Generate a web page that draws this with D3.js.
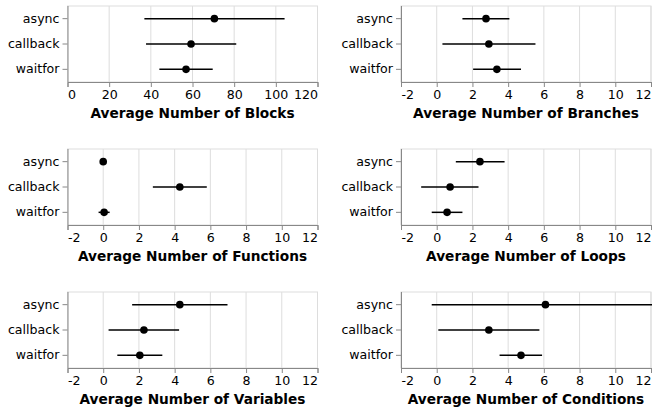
<!DOCTYPE html>
<html>
<head>
<meta charset="utf-8">
<script src="https://cdn.jsdelivr.net/npm/d3@7"></script>
<style>
  body { margin: 0; background: #fff; }
  svg text { font-family: 'DejaVu Sans', sans-serif; }
</style>
</head>
<body>
<div id="chart"></div>
<script>
const groups = ['async', 'callback', 'waitfor']

// one row per panel: [mean, lo, hi] per group
const blocks = [[70.5, 36.9, 104.2], [59.3, 37.7, 81.0], [56.9, 44.1, 69.7]]
const branches = [[2.76, 1.44, 4.07], [2.92, 0.32, 5.53], [3.37, 2.04, 4.72]]
const functions = [[0.0, 0.0, 0.0], [4.29, 2.78, 5.8], [0.05, -0.26, 0.36]]
const loops = [[2.42, 1.07, 3.8], [0.75, -0.87, 2.34], [0.58, -0.28, 1.44]]
const variables = [[4.29, 1.62, 6.96], [2.28, 0.3, 4.25], [2.05, 0.79, 3.31]]
const conditions = [[6.09, -0.28, 12.46], [2.92, 0.09, 5.75], [4.72, 3.52, 5.9]]

const titles = [
  'Average Number of Blocks', 'Average Number of Branches',
  'Average Number of Functions', 'Average Number of Loops',
  'Average Number of Variables', 'Average Number of Conditions'
]
const seriesList = [blocks, branches, functions, loops, variables, conditions]
const domains = [[0, 120], [-2, 12], [-2, 12], [-2, 12], [-2, 12], [-2, 12]]
const tickSets = [
  [0, 20, 40, 60, 80, 100, 120],
  [-2, 0, 2, 4, 6, 8, 10, 12]
]

const width = 250
const height = 76
const colX = [67.5, 401]
const rowY = [6, 149, 292]

const svg = d3
  .select('#chart')
  .append('svg')
  .attr('width', 652)
  .attr('height', 413)

seriesList.forEach((series, i) => {
  const g = svg
    .append('g')
    .attr('transform', 'translate(' + colX[i % 2] + ',' + rowY[Math.floor(i / 2)] + ')')

  const x = d3.scaleLinear().domain(domains[i]).range([0, width])
  const y = d3.scaleBand().domain(groups).range([0, height])
  const ticks = i === 0 ? tickSets[0] : tickSets[1]

  // gridlines
  g.selectAll('.grid')
    .data(ticks)
    .enter()
    .append('line')
    .attr('x1', d => x(d))
    .attr('x2', d => x(d))
    .attr('y1', 0)
    .attr('y2', height)
    .attr('stroke', '#ddd')
    .attr('stroke-width', 1)

  // view frame
  g.append('rect')
    .attr('width', width)
    .attr('height', height)
    .attr('fill', 'none')
    .attr('stroke', '#ddd')

  // x axis
  const xAxis = g
    .append('g')
    .attr('transform', 'translate(0,' + height + ')')
    .call(d3.axisBottom(x).tickValues(ticks).tickSize(5).tickPadding(3).tickFormat(d3.format('d')))
  xAxis.select('.domain').attr('stroke', '#888')
  xAxis.selectAll('.tick line').attr('stroke', '#888')
  xAxis.selectAll('.tick text')
    .attr('font-size', 12.6)
    .attr('fill', '#000')
    .attr('font-family', "'DejaVu Sans', sans-serif")
    .attr('text-anchor', (d, j) => (j === 0 ? 'start' : j === ticks.length - 1 ? 'end' : 'middle'))
    .text(d => (d < 0 ? '-' + Math.abs(d) : d))

  // y axis
  const yAxis = g.append('g').call(d3.axisLeft(y).tickSize(5).tickPadding(3))
  yAxis.select('.domain').attr('stroke', '#888').attr('d', 'M0.5,0V' + height)
  yAxis.selectAll('.tick line').attr('stroke', '#888')
  yAxis.selectAll('.tick text')
    .attr('font-size', 12.6)
    .attr('fill', '#000')
    .attr('font-family', "'DejaVu Sans', sans-serif")

  // error bars
  g.selectAll('.err')
    .data(series)
    .enter()
    .append('line')
    .attr('x1', d => x(d[1]))
    .attr('x2', d => x(d[2]))
    .attr('y1', (d, j) => y(groups[j]) + y.bandwidth() / 2)
    .attr('y2', (d, j) => y(groups[j]) + y.bandwidth() / 2)
    .attr('stroke', '#000')
    .attr('stroke-width', 1.5)

  // means
  g.selectAll('.pt')
    .data(series)
    .enter()
    .append('circle')
    .attr('cx', d => x(d[0]))
    .attr('cy', (d, j) => y(groups[j]) + y.bandwidth() / 2)
    .attr('r', 3.8)
    .attr('fill', '#000')

  g.append('text')
    .text(titles[i])
    .attr('x', width / 2)
    .attr('y', height + 36)
    .attr('text-anchor', 'middle')
    .attr('font-size', 13.7)
    .attr('font-weight', 'bold')
    .attr('fill', '#000')
})
</script>
</body>
</html>
